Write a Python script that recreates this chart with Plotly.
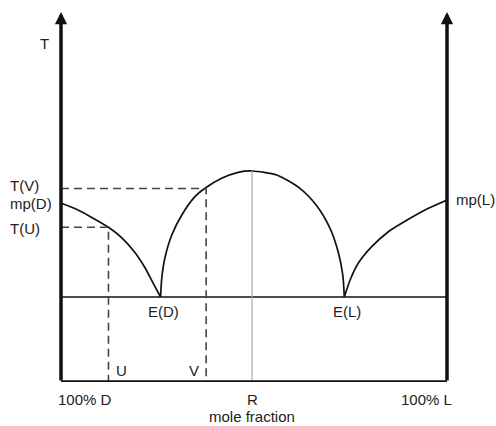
import plotly.graph_objects as go

# ---- data (mole fraction of L, temperature in arbitrary units) ----
d_liquidus_x = [0.0, 0.036, 0.075, 0.123, 0.157, 0.192, 0.218, 0.239, 0.258]
d_liquidus_T = [179, 173.4, 165.6, 154.7, 144.3, 129.2, 114, 98.7, 85]

rac_liquidus_x = [0.258, 0.261, 0.269, 0.287, 0.313, 0.347, 0.373, 0.416, 0.459, 0.495,
                  0.559, 0.619, 0.661, 0.697, 0.718, 0.730, 0.734]
rac_liquidus_T = [85, 103.7, 123.7, 147, 167, 185.3, 193.7, 203.7, 209.7, 211,
                  207, 193.7, 177, 153.7, 130.3, 107, 85]

l_liquidus_x = [0.734, 0.749, 0.770, 0.805, 0.848, 0.900, 0.952, 1.0]
l_liquidus_T = [85, 102, 118.7, 135.3, 150.3, 162.7, 173.7, 182]

eutectic_T = 85
T_max = 370
R_x = 0.495
R_T = 211
U_x, T_U = 0.123, 154.7
V_x, T_V = 0.376, 193.5

bottom_labels = ["100% D", "R", "100% L"]
bottom_label_x = [0.062, R_x, 0.948]

FONT = dict(family="Liberation Sans, Arial, sans-serif", size=15, color="#222")

fig = go.Figure()

curve_style = dict(color="#111", width=1.7)
for xs, ts in [(d_liquidus_x, d_liquidus_T), (rac_liquidus_x, rac_liquidus_T),
               (l_liquidus_x, l_liquidus_T)]:
    fig.add_trace(go.Scatter(x=xs, y=ts, mode="lines",
                             line=dict(shape="spline", smoothing=0.7, **curve_style),
                             hoverinfo="skip", showlegend=False))

# eutectic line
fig.add_trace(go.Scatter(x=[0, 1], y=[eutectic_T, eutectic_T], mode="lines",
                         line=dict(color="#111", width=1.7), showlegend=False, hoverinfo="skip"))
# R line
fig.add_trace(go.Scatter(x=[R_x, R_x], y=[0, R_T], mode="lines",
                         line=dict(color="#aaaaaa", width=1.2), showlegend=False, hoverinfo="skip"))
# dashed guides
dash_style = dict(color="#444", width=1.6, dash="8px,5px")
fig.add_trace(go.Scatter(x=[0, U_x, U_x], y=[T_U, T_U, 0], mode="lines",
                         line=dash_style, showlegend=False, hoverinfo="skip"))
fig.add_trace(go.Scatter(x=[0, V_x, V_x], y=[T_V, T_V, 0], mode="lines",
                         line=dash_style, showlegend=False, hoverinfo="skip"))
# bottom axis line
fig.add_trace(go.Scatter(x=[0, 1], y=[0, 0], mode="lines",
                         line=dict(color="#111", width=3.5), showlegend=False, hoverinfo="skip"))

# vertical axes with arrows
for xa in [0, 1]:
    fig.add_annotation(x=xa, y=T_max, ax=xa, ay=0, xref="x", yref="y", axref="x", ayref="y",
                       text="", showarrow=True, arrowhead=2, arrowsize=0.7, arrowwidth=3.5,
                       arrowcolor="#111")

def lab(text, x, T, xanchor="center", yanchor="middle"):
    # labels placed in paper coordinates (x range is [0,1], y range is [0,T_max])
    fig.add_annotation(x=x, y=T / T_max, xref="paper", yref="paper", text=text,
                       showarrow=False, xanchor=xanchor, yanchor=yanchor, font=FONT)

lab("T", -0.044, 339)
lab("T(V)", -0.137, 197, xanchor="left")
lab("mp(D)", -0.137, 179, xanchor="left")
lab("T(U)", -0.137, 154, xanchor="left")
lab("mp(L)", 1.018, 182, xanchor="left")
lab("E(D)", 0.265, 71)
lab("E(L)", 0.741, 71)
lab("U", 0.137, 12, xanchor="left")
lab("V", 0.362, 12, xanchor="right")
for t, xx in zip(bottom_labels, bottom_label_x):
    lab(t, xx, -17)
lab("mole fraction", R_x, -34)

fig.update_layout(
    width=496, height=426,
    margin=dict(l=61, r=49, t=12, b=44),
    plot_bgcolor="white", paper_bgcolor="white",
    xaxis=dict(range=[0, 1], visible=False, fixedrange=True),
    yaxis=dict(range=[0, T_max], visible=False, fixedrange=True),
    showlegend=False,
)
fig.write_html("out.html", config={"displayModeBar": False},
               post_script="document.body.style.margin='0';")
